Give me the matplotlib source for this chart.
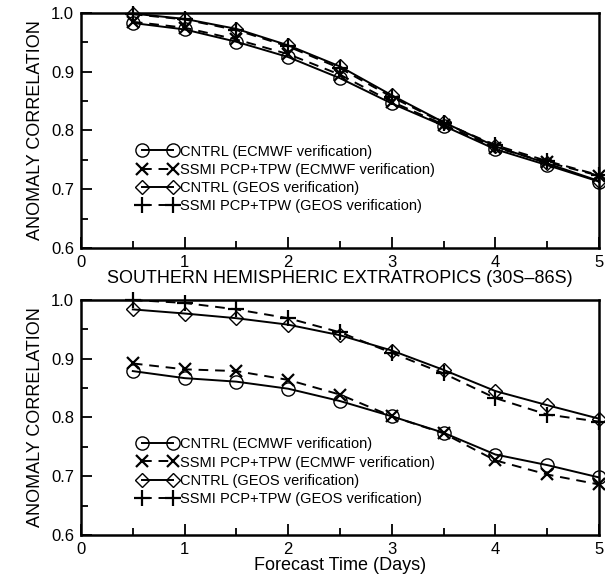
import matplotlib
matplotlib.use("Agg")
import matplotlib.pyplot as plt
from matplotlib.ticker import MultipleLocator, FormatStrFormatter

plt.rcParams["font.family"] = ["Liberation Sans", "DejaVu Sans"]

days = [0.5, 1.0, 1.5, 2.0, 2.5, 3.0, 3.5, 4.0, 4.5, 5.0]

# Southern hemispheric extratropics (30S-86S)
sh_cntrl_ecmwf = [0.983, 0.972, 0.951, 0.925, 0.889, 0.846, 0.808, 0.768, 0.741, 0.713]
sh_ssmi_ecmwf = [0.985, 0.975, 0.955, 0.930, 0.895, 0.849, 0.810, 0.771, 0.746, 0.723]
sh_cntrl_geos = [0.999, 0.990, 0.973, 0.945, 0.909, 0.860, 0.814, 0.773, 0.744, 0.714]
sh_ssmi_geos = [0.998, 0.989, 0.971, 0.943, 0.906, 0.857, 0.813, 0.775, 0.748, 0.724]

# second panel
nh_cntrl_ecmwf = [0.879, 0.867, 0.861, 0.849, 0.828, 0.802, 0.774, 0.737, 0.719, 0.698]
nh_ssmi_ecmwf = [0.892, 0.882, 0.879, 0.864, 0.839, 0.802, 0.773, 0.727, 0.703, 0.686]
nh_cntrl_geos = [0.984, 0.977, 0.969, 0.958, 0.940, 0.914, 0.881, 0.845, 0.821, 0.798]
nh_ssmi_geos = [1.000, 0.995, 0.984, 0.969, 0.945, 0.910, 0.875, 0.833, 0.805, 0.793]

labels = [
    "CNTRL (ECMWF verification)",
    "SSMI PCP+TPW (ECMWF verification)",
    "CNTRL (GEOS verification)",
    "SSMI PCP+TPW (GEOS verification)",
]

fig = plt.figure(figsize=(6.05, 5.82), dpi=100)
ax_top = fig.add_axes([81 / 605, 1 - 248 / 582, 518 / 605, 235 / 582])
ax_bot = fig.add_axes([81 / 605, 1 - 535 / 582, 518 / 605, 235 / 582])


def draw_panel(ax, series, xlabel, legend_y):
    styles = [
        dict(marker="o", ls="-", ms=9.5),
        dict(marker="x", ls="--", ms=8, mew=1.6),
        dict(marker="D", ls="-", ms=7.5),
        dict(marker="+", ls="--", ms=11, mew=1.6),
    ]
    for vals, lab, st in zip(series, labels, styles):
        ax.plot(days, vals, color="black", lw=1.4, mfc="none", mec="black",
                clip_on=False, label=lab, dashes=(5, 3.5) if st["ls"] == "--" else (None, None),
                **{k: v for k, v in st.items() if k != "ls"})
    ax.set_xlim(0, 5)
    ax.set_ylim(0.6, 1.0)
    ax.xaxis.set_major_locator(MultipleLocator(1))
    ax.xaxis.set_minor_locator(MultipleLocator(0.5))
    ax.yaxis.set_major_locator(MultipleLocator(0.1))
    ax.yaxis.set_minor_locator(MultipleLocator(0.05))
    ax.yaxis.set_major_formatter(FormatStrFormatter("%.1f"))
    ax.tick_params(which="both", direction="in", labelsize=12, width=1.3)
    ax.tick_params(which="major", length=8, pad=5)
    ax.tick_params(which="minor", length=5)
    for sp in ax.spines.values():
        sp.set_linewidth(1.8)
    ax.set_ylabel("ANOMALY CORRELATION", fontsize=13, labelpad=5)
    ax.set_xlabel(xlabel, fontsize=13, labelpad=0)
    ax.legend(loc="upper left", bbox_to_anchor=(0.11, legend_y), frameon=False,
              fontsize=10.5, numpoints=2, handlelength=2.7, handletextpad=0.15,
              labelspacing=0.28, borderpad=0, borderaxespad=0)


draw_panel(ax_top, [sh_cntrl_ecmwf, sh_ssmi_ecmwf, sh_cntrl_geos, sh_ssmi_geos],
           "SOUTHERN HEMISPHERIC EXTRATROPICS (30S\u201386S)", 0.44)
draw_panel(ax_bot, [nh_cntrl_ecmwf, nh_ssmi_ecmwf, nh_cntrl_geos, nh_ssmi_geos],
           "Forecast Time (Days)", 0.415)

fig.savefig("out.png", dpi=100)
